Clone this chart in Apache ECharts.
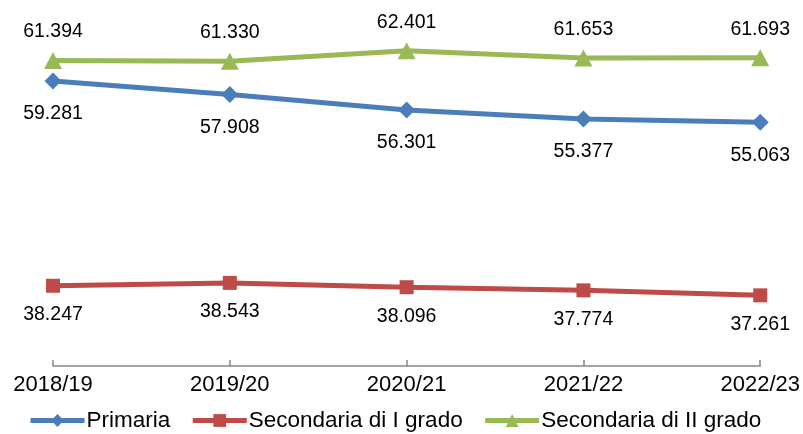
<!DOCTYPE html>
<html>
<head>
<meta charset="utf-8">
<script src="https://cdn.jsdelivr.net/npm/echarts@6/dist/echarts.min.js"></script>
<style>
html,body{margin:0;padding:0;background:#fff;}
#c{width:803px;height:434px;}
</style>
</head>
<body>
<div id="c"></div>
<script>
const categories = ['2018/19', '2019/20', '2020/21', '2021/22', '2022/23'];
const primaria = [59.281, 57.908, 56.301, 55.377, 55.063];
const secondariaI = [38.247, 38.543, 38.096, 37.774, 37.261];
const secondariaII = [61.394, 61.330, 62.401, 61.653, 61.693];
const seriesNames = ['Primaria', 'Secondaria di I grado', 'Secondaria di II grado'];

const FONT = "'Liberation Sans', Arial, sans-serif";
const chart = echarts.init(document.getElementById('c'), null, {renderer: 'canvas'});

function lbl(dy) {
  return {
    show: true,
    position: 'inside',
    offset: [0, dy],
    color: '#000',
    fontFamily: FONT,
    fontSize: 19.5,
    formatter: p => p.value.toFixed(3)
  };
}

chart.setOption({
  animation: false,
  backgroundColor: '#fff',
  grid: {left: 53, right: 41, top: 25.45, bottom: 68},
  legend: {
    left: 28,
    top: 409,
    padding: 0,
    itemWidth: 54,
    itemHeight: 16,
    itemGap: 20,
    lineStyle: {width: 5},
    textStyle: {fontFamily: FONT, fontSize: 22.5, color: '#000', padding: [0, 0, 0, -3]},
    data: seriesNames
  },
  xAxis: {
    type: 'category',
    data: categories,
    boundaryGap: false,
    axisLine: {lineStyle: {color: '#868686', width: 1.5}},
    axisTick: {show: true, inside: true, length: 6, alignWithLabel: true, lineStyle: {color: '#868686', width: 1.5}},
    axisLabel: {color: '#000', fontFamily: FONT, fontSize: 22, margin: 8}
  },
  yAxis: {
    type: 'value',
    min: 30,
    max: 65,
    show: false,
    splitLine: {show: false}
  },
  series: [
    {
      name: seriesNames[0], type: 'line', data: primaria,
      symbol: 'diamond', symbolSize: 17,
      itemStyle: {color: '#4A7EBB'},
      lineStyle: {color: '#4A7EBB', width: 5},
      label: lbl(33), z: 3
    },
    {
      name: seriesNames[1], type: 'line', data: secondariaI,
      symbol: 'rect', symbolSize: 14,
      itemStyle: {color: '#BE4B48'},
      lineStyle: {color: '#BE4B48', width: 5},
      label: lbl(29)
    },
    {
      name: seriesNames[2], type: 'line', data: secondariaII,
      symbol: 'triangle', symbolSize: [18, 17],
      itemStyle: {color: '#98B954'},
      lineStyle: {color: '#98B954', width: 5},
      label: lbl(-28.5)
    }
  ]
});
</script>
</body>
</html>
